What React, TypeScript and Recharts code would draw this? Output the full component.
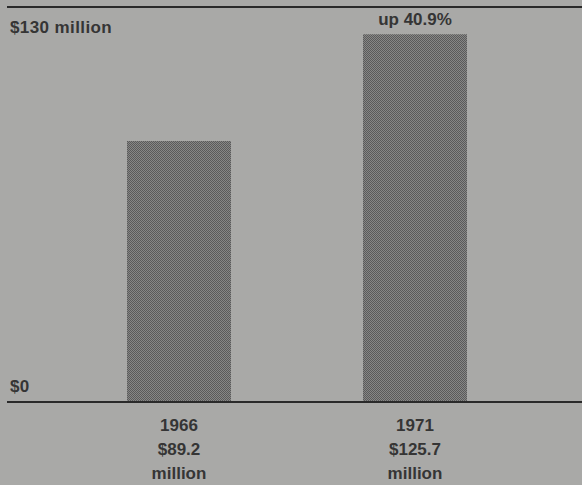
import React from 'react';
import { BarChart, Bar, XAxis, YAxis, LabelList } from 'recharts';

const years = ['1966', '1971'];
const values = [89.2, 125.7];
const valueLabels = ['$89.2', '$125.7'];
const unitLabels = ['million', 'million'];
const changeLabels = ['', 'up 40.9%'];
const yTicks = [0, 130];
const yTickLabels = ['$0', '$130 million'];

const data = years.map((y, i) => ({
  year: y,
  value: values[i],
  valueLabel: valueLabels[i],
  unit: unitLabels[i],
  change: changeLabels[i],
}));

const FONT = '"Liberation Sans", Arial, Helvetica, sans-serif';
const TEXT = '#353535';
const LINE = '#2a2a2a';

const XTick = (props: any) => {
  const { x, y, payload } = props;
  const i = years.indexOf(payload.value);
  return (
    <g>
      <text x={x} y={y + 29} textAnchor="middle" fill={TEXT} fontFamily={FONT} fontWeight="bold" fontSize={17}>{payload.value}</text>
      <text x={x} y={y + 53} textAnchor="middle" fill={TEXT} fontFamily={FONT} fontWeight="bold" fontSize={17}>{valueLabels[i]}</text>
      <text x={x} y={y + 77} textAnchor="middle" fill={TEXT} fontFamily={FONT} fontWeight="bold" fontSize={17}>{unitLabels[i]}</text>
    </g>
  );
};

const YTick = (props: any) => {
  const { y, payload } = props;
  const i = yTicks.indexOf(payload.value);
  const isTop = payload.value > 0;
  return (
    <text x={10} y={isTop ? y + 11.5 : y - 10} textAnchor="start" fill={TEXT} fontFamily={FONT} fontWeight="bold" fontSize={17} letterSpacing={0.4}>
      {yTickLabels[i]}
    </text>
  );
};

const ChangeLabel = (props: any) => {
  const { x, y, width, value } = props;
  if (!value) return null;
  return (
    <text x={x + width / 2} y={y - 9} textAnchor="middle" fill={TEXT} fontFamily={FONT} fontWeight="bold" fontSize={17}>{value}</text>
  );
};

export default function App() {
  return (
    <div style={{ position: 'absolute', left: 0, top: 0, width: 582, height: 485, background: '#a9a9a7' }}>
      <BarChart width={582} height={485} data={data} margin={{ top: 6, right: 0, bottom: 82, left: 6 }}>
        <defs>
          <pattern id="dots" patternUnits="userSpaceOnUse" width={2} height={2}>
            <rect x={0} y={0} width={2} height={2} fill="#878786" />
            <rect x={0} y={0} width={1} height={1} fill="#5a5a5a" />
            <rect x={1} y={1} width={1} height={1} fill="#5a5a5a" />
          </pattern>
        </defs>
        <XAxis
          dataKey="year"
          xAxisId="bottom"
          orientation="bottom"
          height={1}
          padding={{ left: 54, right: 49 }}
          tickSize={0}
          tickMargin={0}
          tickLine={false}
          axisLine={{ stroke: LINE, strokeWidth: 2 }}
          tick={<XTick />}
          interval={0}
        />
        <XAxis
          dataKey="year"
          xAxisId="top"
          orientation="top"
          height={1}
          tick={false}
          tickLine={false}
          axisLine={{ stroke: LINE, strokeWidth: 2 }}
        />
        <YAxis
          width={1}
          domain={[0, 135]}
          ticks={yTicks}
          tickLine={false}
          axisLine={false}
          tickSize={0}
          tick={<YTick />}
          interval={0}
        />
        <Bar dataKey="value" xAxisId="bottom" fill="url(#dots)" barSize={104} isAnimationActive={false}>
          <LabelList dataKey="change" content={<ChangeLabel />} />
        </Bar>
      </BarChart>
    </div>
  );
}
